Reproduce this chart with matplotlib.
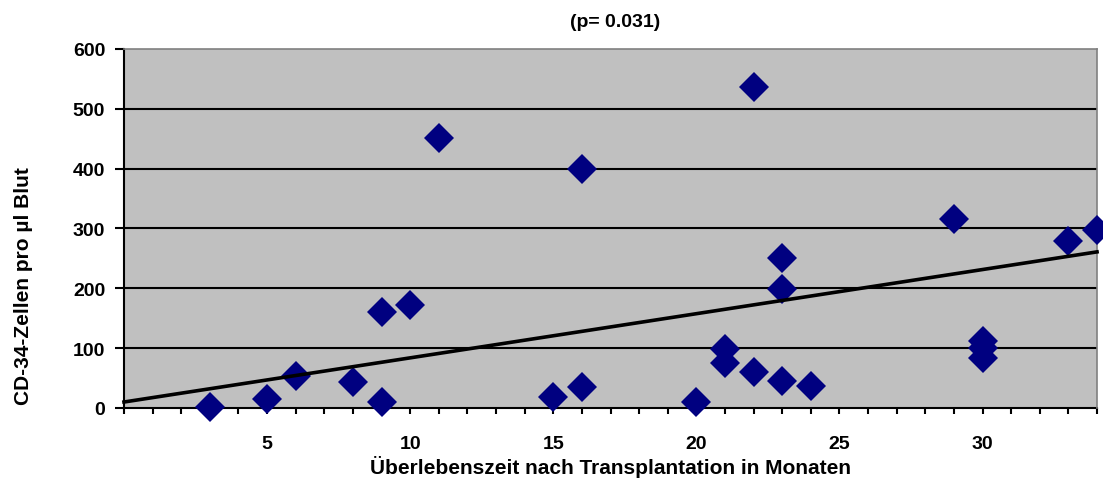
import matplotlib.pyplot as plt
import numpy as np

# --- Daten ---
monate = [3, 5, 6, 8, 9, 9, 10, 11, 15, 16, 16, 20, 21, 21, 22, 22, 23, 23, 23,
          24, 29, 30, 30, 30, 33, 34]
cd34 = [2, 15, 53, 44, 10, 160, 172, 451, 18, 35, 400, 10, 99, 75, 537, 60, 251,
        199, 45, 37, 316, 112, 100, 84, 279, 297]
trend_intercept = 10
trend_slope = 7.38
p_text = "(p= 0.031)"
x_ticks = [5, 10, 15, 20, 25, 30]
y_ticks = [0, 100, 200, 300, 400, 500, 600]

plt.rcParams["font.family"] = ["Liberation Sans", "DejaVu Sans"]
plt.rcParams["font.weight"] = "bold"

fig = plt.figure(figsize=(11.03, 4.89), dpi=100)
ax = fig.add_axes([0.1124, 0.1636, 0.8822, 0.7342])
ax.set_facecolor("#C0C0C0")

# Gitterlinien
for yv in y_ticks[1:-1]:
    ax.axhline(yv, color="black", lw=1.5, zorder=1)

ax.plot(monate, cd34, linestyle="none", marker="D", markersize=14.8,
        color="#000080", markeredgewidth=0, zorder=3, clip_on=False)

xt = np.array([0, 34])
ax.plot(xt, trend_intercept + trend_slope * xt, color="black", lw=2.6,
        zorder=4, clip_on=False)

ax.set_xlim(0, 34)
ax.set_ylim(0, 600)
ax.set_xticks(np.arange(0, 35, 1))
ax.set_xticklabels([str(t) if t in x_ticks else "" for t in range(0, 35)])
ax.set_yticks(y_ticks)
ax.tick_params(axis="both", direction="out", width=1.5, labelsize=14)
ax.tick_params(axis="x", length=4.5, pad=15)
ax.tick_params(axis="y", length=6.5, pad=7)

for s in ["left", "bottom"]:
    ax.spines[s].set_linewidth(1.5)
    ax.spines[s].set_color("black")
    ax.spines[s].set_zorder(2)
for s in ["top", "right"]:
    ax.spines[s].set_linewidth(1.2)
    ax.spines[s].set_color("#808080")

ax.set_xlabel("Überlebenszeit nach Transplantation in Monaten", fontsize=15,
              fontweight="bold", labelpad=2)
fig.text(0.021, 1 - 286 / 489, "CD-34-Zellen pro µl Blut", rotation=90,
         ha="center", va="center", fontsize=15, fontweight="bold")
fig.text(0.5575, 0.955, p_text, ha="center", va="center", fontsize=14,
         fontweight="bold")

fig.savefig("out.png", dpi=100)
